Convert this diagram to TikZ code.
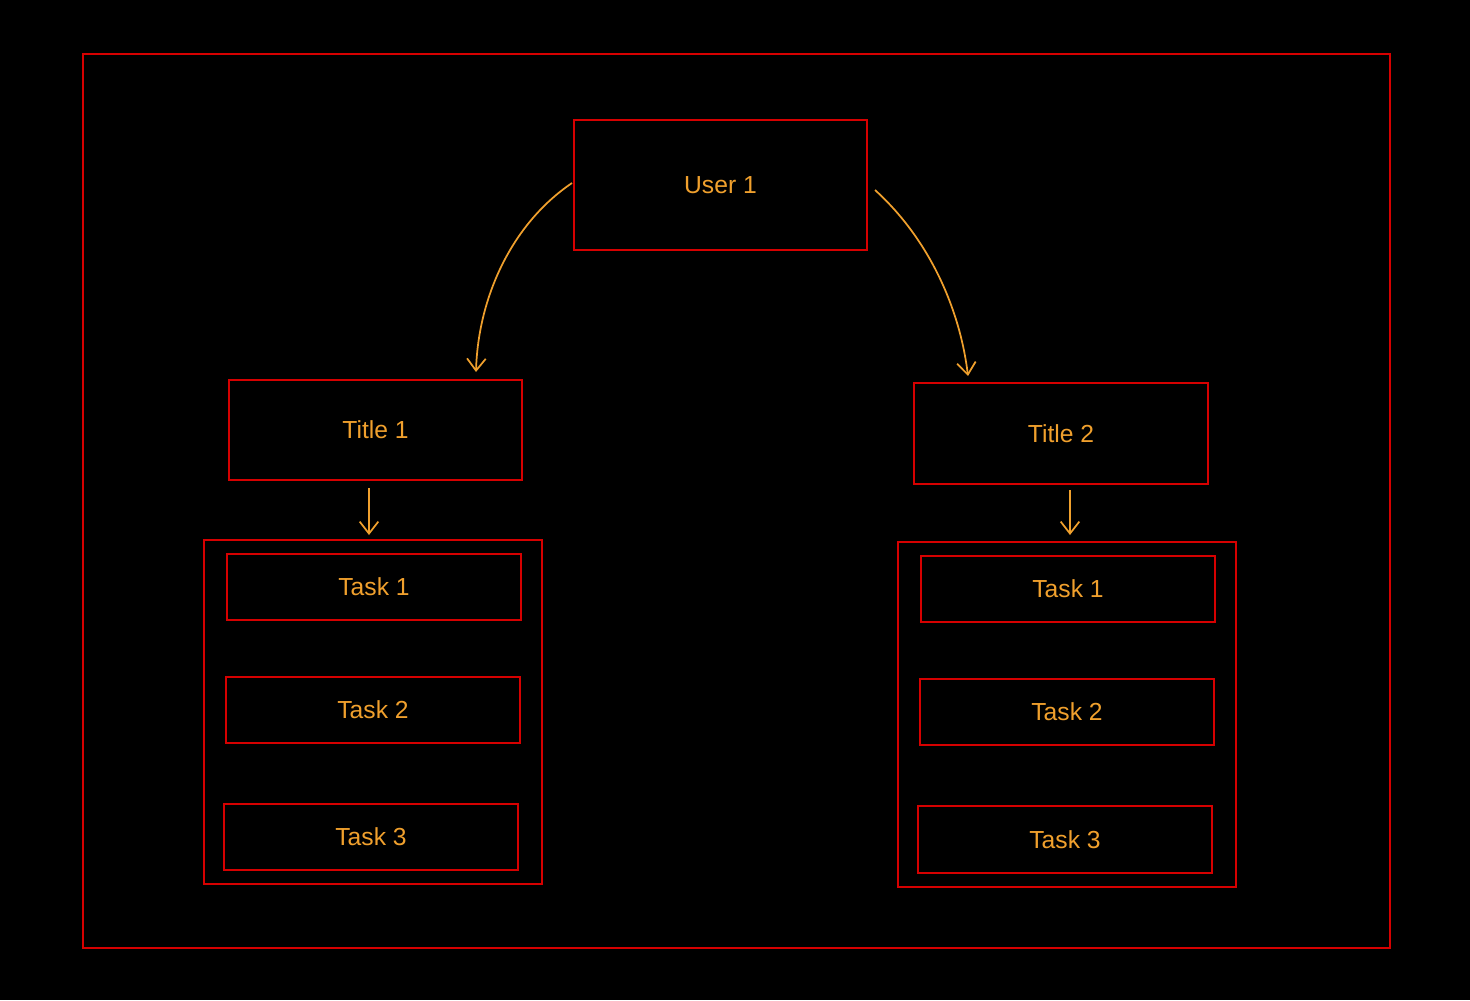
\documentclass[tikz,border=0pt]{standalone}
\usepackage{fontspec}
\setmainfont{Liberation Sans}
\usetikzlibrary{arrows.meta}
\definecolor{boxred}{RGB}{214,0,0}
\definecolor{txtorange}{RGB}{240,160,45}
\tikzset{
  box/.style={draw=boxred, line width=1.7pt, inner sep=0pt, rectangle, text=txtorange, font=\fontsize{18.5pt}{22pt}\selectfont},
  conn/.style={draw=txtorange, line width=1.3pt, -{Straight Barb[length=9pt,width=14pt,line width=1.3pt]}}
}
\begin{document}
\begin{tikzpicture}[x=0.75pt,y=-0.75pt]
\fill[black] (0,0) rectangle (1470,1000);
\useasboundingbox (0,0) rectangle (1470,1000);
\node[box, minimum width=980.25pt, minimum height=670.5pt] (outer) at (736.5,501) {};
\node[box, minimum width=219.75pt, minimum height=97.5pt] (user) at (720.5,185) {User 1};
\node[box, minimum width=219.75pt, minimum height=75pt] (t1) at (375.5,430) {Title 1};
\node[box, minimum width=220.5pt, minimum height=75.75pt] (t2) at (1061,433.5) {Title 2};
\node[box, minimum width=253.5pt, minimum height=258pt] (c1) at (373,712) {};
\node[box, minimum width=253.5pt, minimum height=258.75pt] (c2) at (1067,714.5) {};
\node[box, minimum width=220.5pt, minimum height=49.5pt] (l1) at (374,587) {Task 1};
\node[box, minimum width=220.5pt, minimum height=49.5pt] (l2) at (373,710) {Task 2};
\node[box, minimum width=220.5pt, minimum height=49.5pt] (l3) at (371,837) {Task 3};
\node[box, minimum width=220.5pt, minimum height=49.5pt] (r1) at (1068,589) {Task 1};
\node[box, minimum width=220.5pt, minimum height=49.5pt] (r2) at (1067,712) {Task 2};
\node[box, minimum width=220.5pt, minimum height=50.25pt] (r3) at (1065,839.5) {Task 3};
\coordinate (ls) at (572,183);
\coordinate (le) at (476,372);
\coordinate (rs) at (875,190);
\coordinate (re) at (968,376);
\coordinate (a1s) at (369,488);
\coordinate (a1e) at (369,535);
\coordinate (a2s) at (1070,490);
\coordinate (a2e) at (1070,535);
\draw[conn] (ls) .. controls (510,225) and (478,300) .. (le);
\draw[conn] (rs) .. controls (930,240) and (960,310) .. (re);
\draw[conn] (a1s) -- (a1e);
\draw[conn] (a2s) -- (a2e);
\end{tikzpicture}
\end{document}
